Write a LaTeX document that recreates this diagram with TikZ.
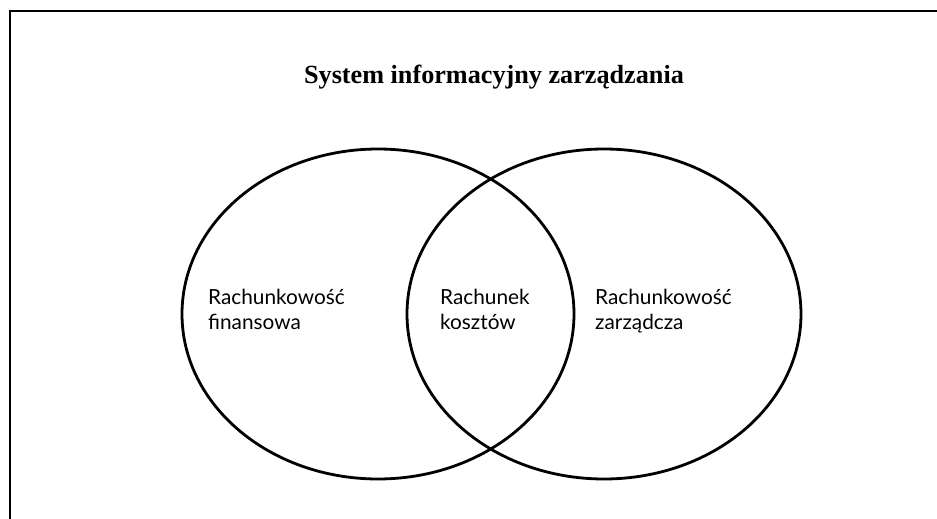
\documentclass[tikz,border=0pt]{standalone}
\usepackage{fontspec}
\setmainfont{Liberation Serif}
\newfontfamily\labelfont{Lato}
\usepackage{tikz}
\usetikzlibrary{positioning}

\begin{document}
\begin{tikzpicture}[
    x=1pt, y=-1pt,
    set/.style={line width=2.8pt},
    frame/.style={line width=2.4pt},
    lbl/.style={font=\labelfont\fontsize{20.8}{25}\selectfont, align=left,
                inner sep=0pt, anchor=base west}
]
    \useasboundingbox (0,0) rectangle (937,519);

    % scanned frame (only top and left edges remain)
    \coordinate (frameR) at (937,11);
    \coordinate (frameTL) at (10,11);
    \coordinate (frameB) at (10,519);
    \draw[frame] (frameR) -- (frameTL) -- (frameB);

    \node[font=\bfseries\fontsize{26.2}{30}\selectfont, anchor=base] (title)
        at (494,84) {System informacyjny zarządzania};

    % two overlapping sets
    \draw[set] (378,314) ellipse [x radius=196pt, y radius=165pt];
    \draw[set] (604,314) ellipse [x radius=197pt, y radius=165pt];

    % base anchor sits on the second line
    \node[lbl] (fin) at (208,329) {Rachunkowość\\finansowa};
    \node[lbl] (koszt) at (440,329) {Rachunek\\kosztów};
    \node[lbl] (zarz) at (595,329) {Rachunkowość\\zarządcza};
\end{tikzpicture}
\end{document}
